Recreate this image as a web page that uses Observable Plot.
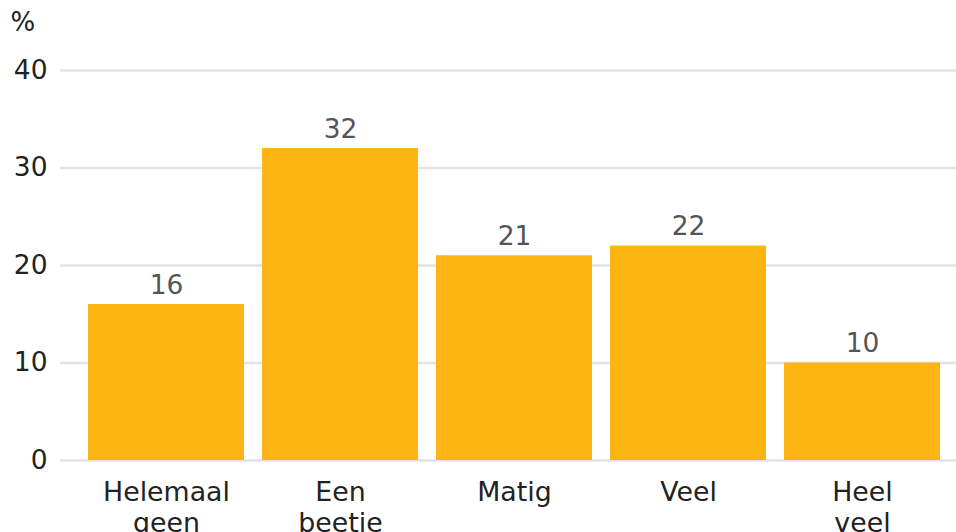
<!DOCTYPE html>
<html>
<head>
<meta charset="utf-8">
<script src="https://cdn.jsdelivr.net/npm/d3@7"></script>
<script src="https://cdn.jsdelivr.net/npm/@observablehq/plot@0.6"></script>
<style>
  html, body { margin: 0; padding: 0; background: #fff; }
  svg { font-family: "DejaVu Sans", sans-serif; }
</style>
</head>
<body>
<div id="chart"></div>
<script>
const categories = ["Helemaal geen", "Een beetje", "Matig", "Veel", "Heel veel"];
const values = [16, 32, 21, 22, 10];
const yTicks = [0, 10, 20, 30, 40];
const unitLabel = "%";

const data = categories.map((c, i) => ({category: c, value: values[i]}));

const chart = Plot.plot({
  width: 956,
  height: 532,
  marginLeft: 60,
  marginRight: 0,
  marginTop: 70,
  marginBottom: 72,
  style: {fontFamily: "DejaVu Sans, sans-serif", fontSize: "26px", background: "#fff"},
  x: {domain: categories, paddingInner: 0.1034, paddingOuter: 0.1264, align: 0.636, label: null},
  y: {domain: [0, 40], label: null},
  marks: [
    Plot.ruleY(yTicks, {stroke: "#e3e3e3", strokeWidth: 2.5}),
    Plot.barY(data, {x: "category", y: "value", fill: "#fdb515"}),
    Plot.text(data, {x: "category", y: "value", text: d => String(d.value), lineAnchor: "bottom", dy: -11, fill: "#555", fontSize: 26.5}),
    Plot.axisY({ticks: yTicks, tickSize: 0, tickPadding: 13, fontSize: 26.5, fill: "#222", label: null}),
    Plot.axisX({tickSize: 0, tickPadding: 18, fontSize: 26.8, fill: "#222", lineHeight: 1.17,
      tickFormat: d => d.replace(" ", "\n"), label: null}),
    Plot.text([unitLabel], {frameAnchor: "top-left", text: d => d, dx: -50, dy: -48, textAnchor: "start", lineAnchor: "middle", fill: "#222", fontSize: 26})
  ]
});
document.getElementById("chart").appendChild(chart);
</script>
</body>
</html>
